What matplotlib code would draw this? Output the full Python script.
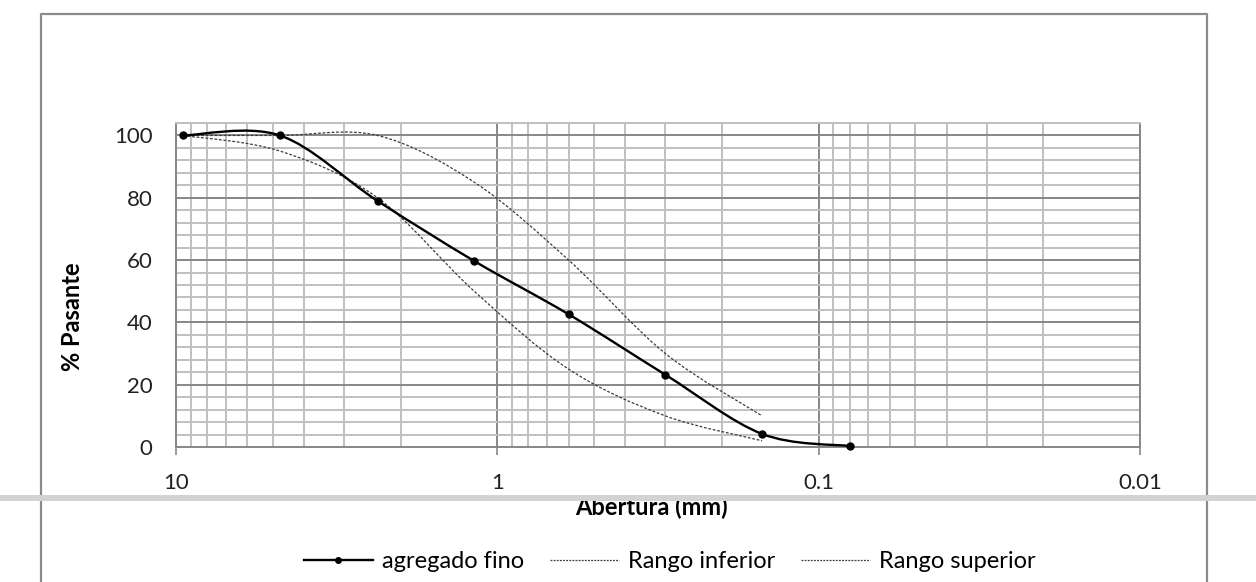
import numpy as np
import matplotlib
matplotlib.use("Agg")
from matplotlib import pyplot as plt
from matplotlib.path import Path
from matplotlib.patches import PathPatch, Rectangle
from matplotlib.lines import Line2D
from matplotlib.ticker import MultipleLocator, FixedLocator, NullFormatter

plt.rcParams['font.family'] = ['Lato', 'DejaVu Sans']

# tamices (mm) y % pasante
abertura = [9.5, 4.75, 2.36, 1.18, 0.6, 0.3, 0.15, 0.08]
agregado_fino = [100, 100, 79, 59.7, 42.6, 23.2, 4.2, 0.3]

abertura_rango = [9.5, 4.75, 2.36, 1.18, 0.6, 0.3, 0.15]
rango_inferior = [100, 95, 80, 50, 25, 10, 2]
rango_superior = [100, 100, 100, 85, 60, 30, 10]

x_ticks = [10, 1, 0.1, 0.01]
x_labels = ["10", "1", "0.1", "0.01"]


def smooth_path(xs, ys):
    # curva suavizada tipo Excel (bezier en espacio log-x)
    u = np.log10(np.array(xs, dtype=float))
    v = np.array(ys, dtype=float)
    P = np.column_stack([u, v])
    n = len(P)
    verts = [P[0]]
    codes = [Path.MOVETO]
    for i in range(n - 1):
        p_prev = P[i - 1] if i > 0 else P[i]
        p_next2 = P[i + 2] if i + 2 < n else P[i + 1]
        c1 = P[i] + (P[i + 1] - p_prev) / 6
        c2 = P[i + 1] - (p_next2 - P[i]) / 6
        verts += [c1, c2, P[i + 1]]
        codes += [Path.CURVE4] * 3
    verts = np.array(verts)
    verts[:, 0] = 10 ** verts[:, 0]
    return Path(verts, codes)


fig = plt.figure(figsize=(12.56, 5.82), dpi=100)
ax = fig.add_axes([176 / 1256, 1 - 447 / 582, (1140 - 176) / 1256, (447 - 123) / 582])

ax.set_xscale('log')
ax.set_xlim(10, 0.01)
ax.set_ylim(0, 104)

major_c = '#878787'
minor_c = '#c0c0c0'
txt_c = '#222222'

ax.xaxis.set_major_locator(FixedLocator(x_ticks))
ax.set_xticklabels(x_labels)
minors = [m * 10.0 ** e for e in range(-2, 1) for m in range(2, 10)]
ax.xaxis.set_minor_locator(FixedLocator(minors))
ax.xaxis.set_minor_formatter(NullFormatter())
ax.yaxis.set_major_locator(MultipleLocator(20))
ax.yaxis.set_minor_locator(MultipleLocator(4))
ax.set_yticks([0, 20, 40, 60, 80, 100])

ax.grid(which='minor', color=minor_c, linewidth=1.4)
ax.grid(which='major', color=major_c, linewidth=1.4)
ax.set_axisbelow(True)

ax.tick_params(axis='x', which='major', length=6, width=1.2, color=major_c,
               labelsize=16, pad=13, labelcolor=txt_c)
ax.tick_params(axis='x', which='minor', length=0)
ax.tick_params(axis='y', which='both', length=0, labelsize=16, pad=17, labelcolor=txt_c)

for s in ['left', 'right', 'bottom']:
    ax.spines[s].set_color(major_c)
    ax.spines[s].set_linewidth(1.4)
ax.spines['top'].set_color(minor_c)
ax.spines['top'].set_linewidth(1.4)

dash = (0, (2.2, 1.4))
ax.add_patch(PathPatch(smooth_path(abertura_rango, rango_inferior), fill=False,
                       edgecolor='#3a3a3a', linewidth=0.9, linestyle=dash, zorder=3))
ax.add_patch(PathPatch(smooth_path(abertura_rango, rango_superior), fill=False,
                       edgecolor='#3a3a3a', linewidth=0.9, linestyle=dash, zorder=3))
ax.add_patch(PathPatch(smooth_path(abertura, agregado_fino), fill=False,
                       edgecolor='black', linewidth=1.7, zorder=4))
ax.plot(abertura, agregado_fino, 'o', color='black', markersize=5, zorder=5, clip_on=False)

fig.text(72 / 1256, 1 - 317 / 582, '% Pasante', rotation=90, fontsize=17,
         fontweight='bold', ha='center', va='center')
fig.text(651 / 1256, 1 - 507 / 582, 'Abertura (mm)', fontsize=17,
         fontweight='bold', ha='center', va='center')

handles = [
    Line2D([], [], color='black', linewidth=1.7, marker='o', markersize=4),
    Line2D([], [], color='#3a3a3a', linewidth=0.9, linestyle=(0, (1.5, 1.0))),
    Line2D([], [], color='#3a3a3a', linewidth=0.9, linestyle=(0, (1.5, 1.0))),
]
fig.legend(handles, ['agregado fino', 'Rango inferior', 'Rango superior'],
           loc='center', bbox_to_anchor=(670 / 1256, 1 - 562 / 582), ncol=3,
           frameon=False, fontsize=17, handlelength=2.9, numpoints=1,
           columnspacing=1.1, handletextpad=0.4)

# marco del grafico y banda gris
border_c = '#8c8c8c'
x0, x1, y0 = 41 / 1256, 1207 / 1256, 1 - 14 / 582
fig.add_artist(Line2D([x0, x0, x1, x1], [-0.1, y0, y0, -0.1], color=border_c,
                      linewidth=1.6, transform=fig.transFigure))
fig.add_artist(Rectangle((0, 1 - 501 / 582), 1, 6 / 582, transform=fig.transFigure,
                         facecolor='#d3d3d3', edgecolor='none', zorder=10))

fig.savefig('out.png', dpi=100)
